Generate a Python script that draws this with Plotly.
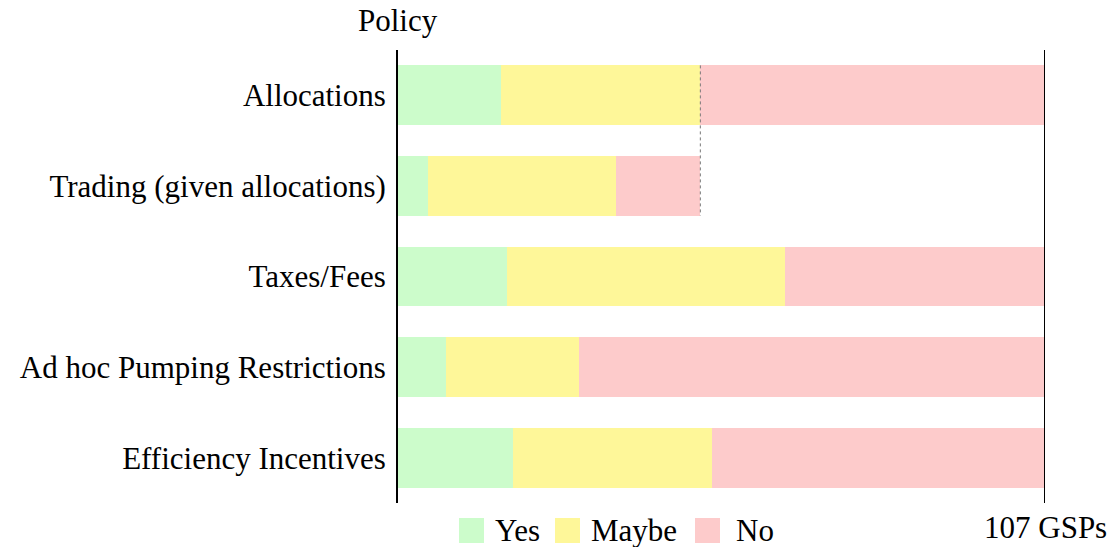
import plotly.graph_objects as go

categories = ["Allocations", "Trading (given allocations)", "Taxes/Fees",
              "Ad hoc Pumping Restrictions", "Efficiency Incentives"]
yes_vals = [17, 5, 18, 8, 19]
maybe_vals = [33, 31, 46, 22, 33]
no_vals = [57, 14, 43, 77, 55]
total_gsps = 107
allocations_total = 50

series = [("Yes", yes_vals, "#ccfccb"), ("Maybe", maybe_vals, "#fef799"), ("No", no_vals, "#fdcbcb")]

FONT = "Liberation Serif, Times New Roman, serif"
FS = 31

fig = go.Figure()
for name, vals, color in series:
    fig.add_trace(go.Bar(
        y=categories, x=vals, name=name, orientation="h",
        marker=dict(color=color, line=dict(width=0)),
        showlegend=False,
    ))

fig.update_layout(
    barmode="stack",
    bargap=0.34,
    width=1115, height=547,
    margin=dict(l=398, r=70, t=50, b=44),
    plot_bgcolor="white", paper_bgcolor="white",
    font=dict(family=FONT, size=FS, color="black"),
    xaxis=dict(range=[0, total_gsps], showgrid=False, zeroline=False,
               showticklabels=False, ticks="", showline=False, fixedrange=True),
    yaxis=dict(autorange="reversed", showgrid=False, zeroline=False,
               showline=True, linecolor="black", linewidth=2, ticks="",
               ticklabelstandoff=4,
               tickfont=dict(family=FONT, size=FS, color="black")),
)

# right boundary line at total
fig.add_shape(type="line", xref="x", yref="paper", x0=total_gsps, x1=total_gsps,
              y0=0, y1=1, line=dict(color="black", width=2))
# dotted line linking allocations and trading totals
half = (1 - 0.34) / 2
fig.add_shape(type="line", xref="x", yref="y", x0=allocations_total, x1=allocations_total,
              y0=-half, y1=1 + half, line=dict(color="#777777", width=1, dash="dot"))

fig.add_annotation(text="Policy", xref="paper", yref="paper", x=0, y=1, yshift=30,
                   xanchor="center", yanchor="middle",
                   showarrow=False, font=dict(family=FONT, size=FS, color="black"))
fig.add_annotation(text=f"{total_gsps} GSPs", xref="x", yref="paper", x=total_gsps, y=0,
                   xanchor="center", yanchor="middle",
                   yshift=-24, showarrow=False, font=dict(family=FONT, size=FS, color="black"))

# manual legend (pixel positions converted to paper coords)
PW, PH = 1115 - 398 - 70, 547 - 50 - 44
legend_sq = [459, 555, 695]
legend_tx = [496, 592, 737]
for (name, vals, color), sx, tx in zip(series, legend_sq, legend_tx):
    fig.add_shape(type="rect", xref="paper", yref="paper",
                  x0=(sx - 398) / PW, x1=(sx + 25 - 398) / PW,
                  y0=-(543 - 503) / PH, y1=-(518 - 503) / PH,
                  fillcolor=color, line=dict(width=0))
    fig.add_annotation(text=name, xref="paper", yref="paper",
                       x=(tx - 398) / PW, y=-(530 - 503) / PH,
                       xanchor="left", yanchor="middle", showarrow=False, xshift=-3,
                       font=dict(family=FONT, size=FS, color="black"))

fig.write_html("out.html", config={"displayModeBar": False},
               post_script="document.body.style.margin='0px';document.body.style.overflow='hidden';")
